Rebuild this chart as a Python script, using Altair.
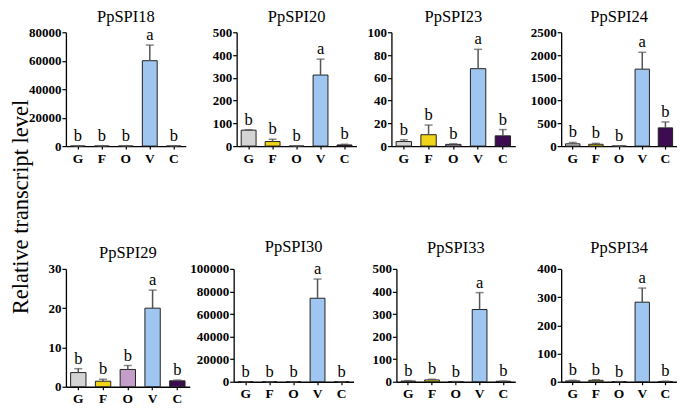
import altair as alt
import pandas as pd

tissues = ["G", "F", "O", "V", "C"]
bar_colors = ["#d4d4d4", "#f0d418", "#c49dc9", "#9fc6f0", "#3c0b50"]
letters = ["b", "b", "b", "a", "b"]

genes = ["PpSPI18", "PpSPI20", "PpSPI23", "PpSPI24",
         "PpSPI29", "PpSPI30", "PpSPI33", "PpSPI34"]

mean_18 = [0, 0, 0, 60000, 0]
top_18 = [0, 0, 0, 71000, 0]
ticks_18 = [0, 20000, 40000, 60000, 80000]

mean_20 = [70, 20, 0, 312, 5]
top_20 = [72, 30, 0, 382, 8]
ticks_20 = [0, 100, 200, 300, 400, 500]

mean_23 = [4, 10, 1.5, 68, 9]
top_23 = [5.5, 18.5, 2, 85, 14.5]
ticks_23 = [0, 20, 40, 60, 80, 100]

mean_24 = [50, 40, 0, 1690, 400]
top_24 = [80, 60, 0, 2060, 530]
ticks_24 = [0, 500, 1000, 1500, 2000, 2500]

mean_29 = [3.6, 1.4, 4.4, 20, 1.5]
top_29 = [4.6, 1.9, 5.4, 24.6, 1.7]
ticks_29 = [0, 10, 20, 30]

mean_30 = [0, 0, 0, 74000, 0]
top_30 = [0, 0, 0, 91000, 0]
ticks_30 = [0, 20000, 40000, 60000, 80000, 100000]

mean_33 = [3, 8, 1, 320, 2]
top_33 = [5, 11, 1, 395, 3]
ticks_33 = [0, 100, 200, 300, 400, 500]

mean_34 = [3, 5, 0.5, 282, 1]
top_34 = [5, 7, 0.5, 332, 2]
ticks_34 = [0, 100, 200, 300, 400]

SERIF = "Liberation Serif"


def panel(gene, mean, top, ticks, width, height, ext, toff):
    df = pd.DataFrame({"tissue": tissues, "mean": mean, "top": top,
                       "letter": letters, "color": bar_colors})
    x = alt.X("tissue:N", sort=tissues,
              scale=alt.Scale(domain=tissues, paddingInner=0.38, paddingOuter=0.19),
              axis=alt.Axis(title=None, labelAngle=0, labelFontSize=13.5,
                            labelPadding=2, tickSize=3, labelFont=SERIF,
                            labelFontWeight="bold"))
    yscale = alt.Scale(domain=[0, ticks[-1]], nice=False)
    yaxis = alt.Axis(title=None, values=ticks, format="d", labelFontSize=13,
                     tickSize=4, labelPadding=1, minExtent=ext, labelFont=SERIF,
                     labelFontWeight="bold")
    base = alt.Chart(df)
    bars = base.mark_bar(stroke="#222222", strokeWidth=1).encode(
        x=x, y=alt.Y("mean:Q", scale=yscale, axis=yaxis),
        fill=alt.Color("color:N", scale=None))
    rule = base.mark_rule(color="#555555", strokeWidth=1.5).encode(
        x=x, y=alt.Y("mean:Q", scale=yscale, axis=yaxis), y2="top:Q")
    cap = base.mark_tick(color="#555555", thickness=1.5, size=8).encode(
        x=x, y=alt.Y("top:Q", scale=yscale, axis=yaxis))
    txt = base.mark_text(baseline="bottom", dy=-2, fontSize=16.5, font=SERIF,
                         color="black").encode(
        x=x, y=alt.Y("top:Q", scale=yscale, axis=yaxis), text="letter:N")
    return alt.layer(bars, rule, cap, txt).properties(
        width=width, height=height,
        title=alt.TitleParams(gene, frame="group", anchor="middle", offset=toff,
                              fontSize=16.5, font=SERIF, fontWeight="normal"))


p1 = panel(genes[0], mean_18, top_18, ticks_18, 120, 114, 38, 1)
p2 = panel(genes[1], mean_20, top_20, ticks_20, 120, 114, 51, 1)
p3 = panel(genes[2], mean_23, top_23, ticks_23, 124, 114, 35, 1)
p4 = panel(genes[3], mean_24, top_24, ticks_24, 116, 114, 46, 1)

p5 = panel(genes[4], mean_29, top_29, ticks_29, 124, 118, 38, 1)
p6 = panel(genes[5], mean_30, top_30, ticks_30, 120, 113, 44, 6)
p7 = panel(genes[6], mean_33, top_33, ticks_33, 119, 113, 43, 6)
p8 = panel(genes[7], mean_34, top_34, ticks_34, 116, 113, 46, 6)

row1 = alt.hconcat(p1, p2, p3, p4, spacing=0)
row2 = alt.hconcat(p5, p6, p7, p8, spacing=0)

chart = alt.vconcat(row1, row2, spacing=73).properties(
    title=alt.TitleParams("Relative transcript level", orient="left",
                          anchor="middle", offset=-5, fontSize=22.5, font=SERIF,
                          fontWeight="normal"),
    padding={"left": 2, "top": 0, "right": 0, "bottom": 0},
).configure_view(stroke=None).configure_axis(
    domainColor="black", tickColor="black", labelColor="black", grid=False,
    domainWidth=1.3, tickWidth=1.2
).configure_title(color="black")

chart.save("out.html", embed_options={"renderer": "svg", "actions": False})
